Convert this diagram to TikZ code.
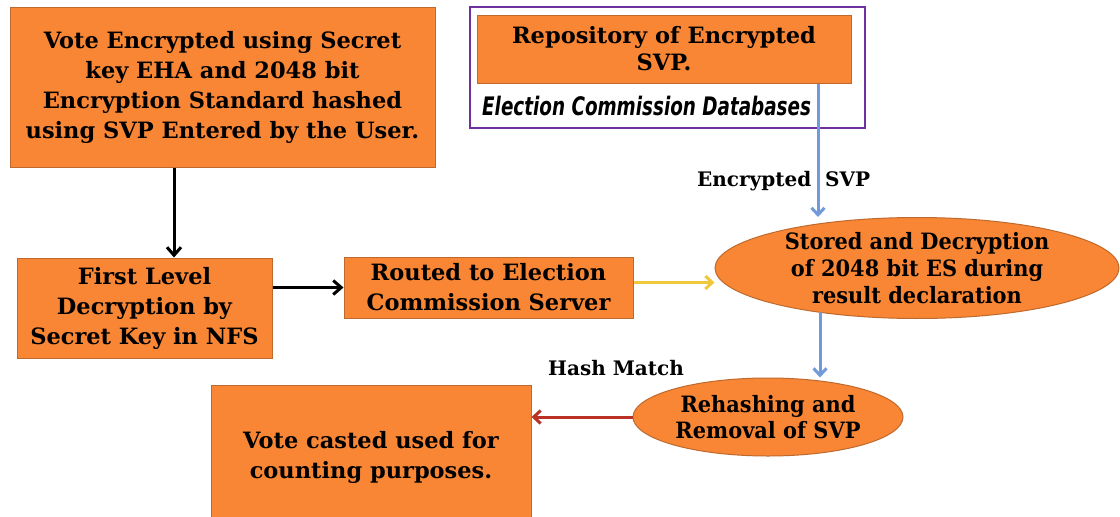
\documentclass[tikz,border=0pt]{standalone}
\usepackage{fontspec}
\setmainfont{DejaVu Serif}[FakeStretch=1.0]
\newfontfamily\narfam{DejaVu Serif}[FakeStretch=0.93]
\newfontfamily\dbfam{DejaVu Sans}[FakeStretch=0.72]
\usetikzlibrary{shapes.geometric,arrows.meta}
\definecolor{orangec}{RGB}{248,134,52}
\definecolor{bordc}{RGB}{190,105,45}
\definecolor{purplec}{RGB}{112,48,160}
\definecolor{bluec}{RGB}{112,154,218}
\definecolor{yellowc}{RGB}{240,200,60}
\definecolor{redc}{RGB}{185,50,35}
\newcommand\mainf{\fontsize{22.5}{30}\selectfont\bfseries}
\newcommand\dbf{\dbfam\bfseries\itshape\fontsize{25.5}{30}\selectfont}
\tikzset{
  box/.style={rectangle, draw=bordc, fill=orangec, line width=1pt, inner sep=0pt, align=center, font=\mainf},
  ell/.style={ellipse, draw=bordc, fill=orangec, line width=1pt, inner sep=0pt, align=center, font=\mainf},
  frame/.style={rectangle, draw=purplec, line width=1.5pt, inner sep=0pt},
  lbl/.style={font=\fontsize{20}{22}\selectfont\bfseries, inner sep=0pt, anchor=base west},
  blk/.style={draw=black, line width=3pt, -{Straight Barb[length=8pt,width=14pt,line width=3pt]}},
  clr/.style={line width=3pt, -{Straight Barb[length=7pt,width=13pt,line width=3pt]}}
}
\begin{document}
\begin{tikzpicture}[x=1pt,y=-1pt]
\useasboundingbox[fill=white] (0,0) rectangle (1120,517);
% frame and database label
\node[frame, minimum width=395pt, minimum height=121pt] (db) at (667.5,67.5) {};
\node[box, minimum width=374pt, minimum height=68pt, font=\fontsize{22.5}{27}\selectfont\bfseries] (repo) at (664,49) {Repository of Encrypted\\SVP.};
\node[inner sep=0pt, anchor=base west, font=\dbf] (dbl) at (482,115) {Election Commission Databases};
% boxes
\node[box, minimum width=425pt, minimum height=160pt] (b1) at (222.5,87) {Vote Encrypted using Secret\\key EHA and 2048 bit\\Encryption Standard hashed\\using SVP Entered by the User.};
\node[box, minimum width=255pt, minimum height=100pt] (b2) at (144.5,308) {First Level\\Decryption by\\Secret Key in NFS};
\node[box, minimum width=289pt, minimum height=61pt] (b3) at (488.5,287.5) {Routed to Election\\Commission Server};
\node[ell, minimum width=404pt, minimum height=96pt, font=\narfam\fontsize{22.5}{27}\selectfont\bfseries] (e1) at (917,268) {Stored and Decryption\\of 2048 bit ES during\\result declaration};
\node[ell, minimum width=270pt, minimum height=78pt, font=\narfam\fontsize{22.5}{26}\selectfont\bfseries] (e2) at (768,417) {Rehashing and\\Removal of SVP};
\node[box, minimum width=320pt, minimum height=145pt] (b4) at (371,457.5) {Vote casted used for\\counting purposes.};
% labels
\node[lbl] (l1) at (697,186) {Encrypted~~SVP};
\node[lbl] (l2) at (548,375) {Hash Match};
% helper coordinates
\coordinate (ax1) at (174,0);
\coordinate (ax2) at (818,0);
\coordinate (ax3) at (820,0);
% connectors
\draw[blk] (b1.south -| ax1) -- (b2.north -| ax1);
\draw[blk] (b2.east |- b3.west) -- (b3.west);
\draw[clr, draw=yellowc] ([yshift=5pt]b3.east) -- ([yshift=5pt]b3.east -| e1.west);
\draw[clr, draw=bluec] (repo.south -| ax2) -- (e1.north -| ax2);
\draw[clr, draw=bluec] (e1.203 -| ax3) -- (e2.north -| ax3);
\draw[clr, draw=redc] (e2.west) -- (e2.west -| b4.east);
\end{tikzpicture}
\end{document}
